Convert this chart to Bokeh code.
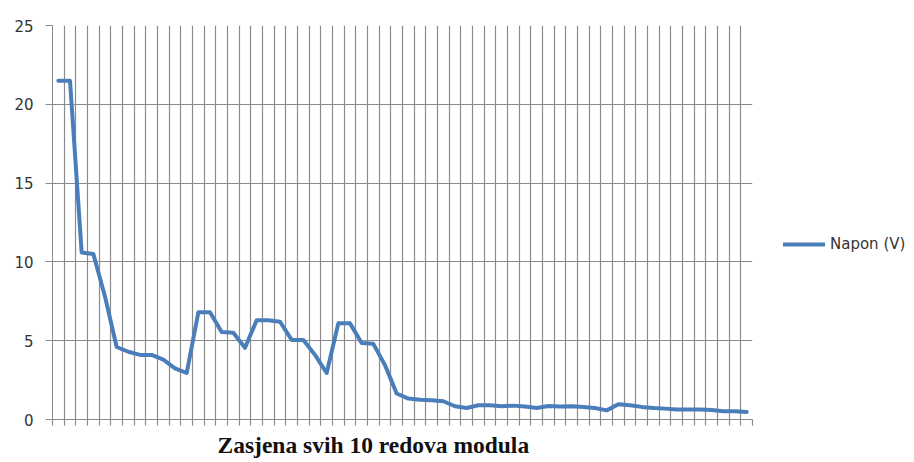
from bokeh.plotting import figure
from bokeh.models import FixedTicker, Legend, LegendItem, Title, ColumnDataSource
from bokeh.embed import file_html
from bokeh.resources import INLINE

# --- data ---
category_index = list(range(60))
voltage = [21.5, 21.5, 10.6, 10.5, 7.8, 4.6, 4.3, 4.1, 4.1, 3.8,
           3.25, 2.95, 6.8, 6.8, 5.55, 5.5, 4.55, 6.3, 6.3, 6.2,
           5.05, 5.05, 4.1, 2.95, 6.1, 6.1, 4.85, 4.8, 3.45, 1.65,
           1.33, 1.26, 1.22, 1.16, 0.84, 0.73, 0.9, 0.9, 0.84, 0.88,
           0.82, 0.73, 0.86, 0.82, 0.84, 0.8, 0.73, 0.58, 0.97, 0.9,
           0.8, 0.73, 0.69, 0.63, 0.63, 0.63, 0.6, 0.52, 0.52, 0.48]
y_ticks = [0, 5, 10, 15, 20, 25]
series_name = "Napon (V)"
chart_title = "Zasjena svih 10 redova modula"

n = len(category_index)
boundaries = [i - 0.5 for i in range(n + 1)]

GRID = "#8a8a8a"
LINE = "#4a7ebb"
TXT = "#333333"

p = figure(frame_width=700, frame_height=394, output_backend="svg",
           toolbar_location=None,
           x_range=(-0.5, n - 0.5), y_range=(0, 25),
           min_border_left=52, min_border_top=25, min_border_right=148,
           min_border_bottom=41)
p.outline_line_color = None
p.background_fill_color = "white"
p.border_fill_color = "white"

src = ColumnDataSource(dict(x=category_index, y=voltage))
r = p.line("x", "y", source=src, line_color=LINE, line_width=4,
           line_join="round", line_cap="round")

# x axis: category boundaries, no labels
p.xaxis.ticker = FixedTicker(ticks=boundaries)
p.xaxis.major_label_overrides = {b: "" for b in boundaries}
p.xaxis.major_label_standoff = 0
p.xaxis.major_tick_out = 6
p.xaxis.major_tick_in = 0
p.xaxis.minor_tick_line_color = None
p.xaxis.major_tick_line_color = GRID
p.xaxis.axis_line_color = GRID
p.xaxis.major_tick_line_width = 1.2

# y axis
p.yaxis.ticker = FixedTicker(ticks=y_ticks)
p.yaxis.major_tick_out = 7
p.yaxis.major_tick_in = 0
p.yaxis.minor_tick_line_color = None
p.yaxis.major_tick_line_color = GRID
p.yaxis.axis_line_color = GRID
p.yaxis.major_label_standoff = 12
p.yaxis.major_label_text_font = "DejaVu Sans"
p.yaxis.major_label_text_font_size = "15px"
p.yaxis.major_label_text_color = TXT

p.xgrid.grid_line_color = GRID
p.xgrid.grid_line_width = 1.2
p.ygrid.grid_line_color = GRID
p.ygrid.grid_line_width = 1.2

legend = Legend(items=[LegendItem(label=series_name, renderers=[r])],
                location=(31, 165), glyph_width=42, glyph_height=20,
                label_standoff=5, padding=0, margin=0, border_line_color=None,
                background_fill_alpha=0, label_text_font="DejaVu Sans",
                label_text_font_size="15px", label_text_color=TXT)
p.add_layout(legend, "right")

t = Title(text=chart_title, align="left", offset=165,
          text_font="Liberation Serif", text_font_style="bold",
          text_font_size="23.5px", text_color="#111111", standoff=9)
p.add_layout(t, "below")

open("out.html", "w").write(file_html(p, INLINE))
